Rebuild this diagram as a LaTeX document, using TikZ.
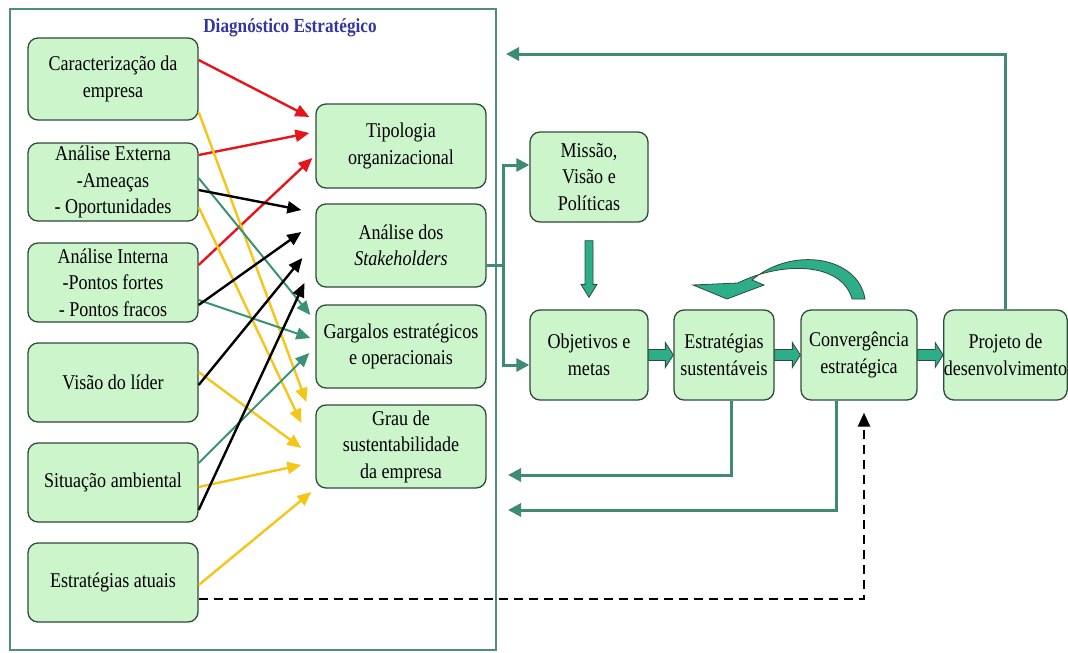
\documentclass[tikz,border=0pt]{standalone}
\usepackage{fontspec}
\setmainfont{Liberation Serif}
\newfontfamily\dgfont{Liberation Serif}[FakeStretch=0.86]
\usetikzlibrary{arrows.meta,calc}
\definecolor{boxfill}{HTML}{CCF5CC}
\definecolor{boxline}{HTML}{2F4A3A}
\definecolor{frameC}{HTML}{4E8E7E}
\definecolor{gline}{HTML}{3E8A72}
\definecolor{blockC}{HTML}{2EAE88}
\definecolor{redA}{HTML}{E8141C}
\definecolor{yelA}{HTML}{F5C518}
\definecolor{tealA}{HTML}{3A9274}
\definecolor{titleC}{HTML}{3535A0}
\newcommand{\blockH}[2]{%
  \draw[blockarr] ($(#1.east)+(0,-5.5)$) -- ($(#2.west)+(-8,-5.5)$) -- ($(#2.west)+(-8,-12.5)$) -- (#2.west)
    -- ($(#2.west)+(-8,12.5)$) -- ($(#2.west)+(-8,5.5)$) -- ($(#1.east)+(0,5.5)$) -- cycle;}
\begin{document}
\begin{tikzpicture}[x=1pt,y=-1pt,
  box/.style={draw=boxline, line width=1.3pt, fill=boxfill, rounded corners=10pt, align=center,
    inner sep=0pt, font=\dgfont\fontsize{21}{26.5}\selectfont},
  lbox/.style={box, minimum width=170pt, minimum height=79pt},
  mbox/.style={box, minimum width=170pt, minimum height=83pt},
  rbox/.style={box, minimum height=90pt},
  thin arrow/.style={line width=2.4pt, -{Triangle[length=14pt,width=12pt]}},
  redarr/.style={thin arrow, redA},
  blkarr/.style={thin arrow, black},
  yelarr/.style={thin arrow, yelA},
  tealarr/.style={thin arrow, tealA, line width=2pt},
  gconn/.style={gline, line width=3pt},
  garr/.style={gconn, -{Triangle[length=13pt,width=13pt]}},
  blockarr/.style={draw=boxline, line width=0.8pt, fill=blockC},
  framebox/.style={draw=frameC, line width=2.5pt, minimum width=486pt, minimum height=641pt, inner sep=0pt},
  titlestyle/.style={font=\dgfont\fontsize{20}{24}\selectfont\bfseries, text=titleC}
]
\useasboundingbox (0,0) rectangle (1068,653);
\node[framebox] (frame) at (253,329.5) {};
\node[titlestyle] (title) at (290,28) {Diagnóstico Estratégico};
% left boxes
\node[lbox, minimum height=82pt] (car) at (113,79) {Caracterização da\\empresa};
\node[lbox, minimum height=78pt] (ext) at (113,182) {Análise Externa\\-Ameaças\\- Oportunidades};
\node[lbox] (int) at (113,282.5) {Análise Interna\\-Pontos fortes\\- Pontos fracos};
\node[lbox] (vis) at (113,382.5) {Visão do líder};
\node[lbox] (sit) at (113,482.5) {Situação ambiental};
\node[lbox] (est) at (113,582.5) {Estratégias atuais};
% middle boxes
\node[mbox, minimum height=84pt] (tip) at (401,146) {Tipologia\\organizacional};
\node[mbox] (stk) at (401,245.5) {Análise dos\\\textit{Stakeholders}};
\node[mbox] (gar) at (401,346.5) {Gargalos estratégicos\\e operacionais};
\node[mbox] (gra) at (401,446.5) {Grau de\\sustentabilidade\\da empresa};
% right boxes
\node[rbox, minimum width=118pt] (mis) at (589,177) {Missão,\\Visão e\\Políticas};
\node[rbox, minimum width=118pt] (obj) at (589,355) {Objetivos e\\metas};
\node[rbox, minimum width=100pt] (ets) at (724,355) {Estratégias\\sustentáveis};
\node[rbox, minimum width=116pt] (con) at (859,355) {Convergência\\estratégica};
\node[rbox, minimum width=121pt] (pro) at (1005.5,355) {Projeto de\\desenvolvimento};
% red arrows
\draw[redarr] ([yshift=19pt]car.east) -- ([xshift=-6pt,yshift=29pt]tip.west);
\draw[redarr] ([yshift=27pt]ext.east) -- ([xshift=-6pt,yshift=13pt]tip.west);
\draw[redarr] ([yshift=17.5pt]int.east) -- ([xshift=-3pt,yshift=-12pt]tip.west);
% yellow arrows
\draw[yelarr] ([yshift=-33pt]car.east) -- ([xshift=-9pt,yshift=44.5pt]gra.west);
\draw[yelarr] ([yshift=-25pt]ext.east) -- ([xshift=-14pt,yshift=23.5pt]gra.west);
\draw[yelarr] ([yshift=10.5pt]vis.east) -- ([xshift=-14pt,yshift=-1.5pt]gra.west);
\draw[yelarr] ([yshift=-4.5pt]sit.east) -- ([xshift=-14pt,yshift=-18.5pt]gra.west);
\draw[yelarr] ([yshift=-2.5pt]est.east) -- ([xshift=-4pt,yshift=-45.5pt]gra.west);
% teal arrows
\draw[tealarr] ([yshift=4pt]ext.east) -- ([xshift=-5pt,yshift=31.5pt]gar.west);
\draw[tealarr] ([yshift=-17.5pt]int.east) -- ([xshift=-5pt,yshift=8.5pt]gar.west);
\draw[tealarr] ([yshift=19.5pt]sit.east) -- ([xshift=-6pt,yshift=-6.5pt]gar.west);
% black arrows
\draw[blkarr] ([yshift=-8pt]ext.east) -- ([xshift=-14pt,yshift=35.5pt]stk.west);
\draw[blkarr] ([yshift=-22.5pt]int.east) -- ([xshift=-14pt,yshift=13.5pt]stk.west);
\draw[blkarr] ([yshift=-2.5pt]vis.east) -- ([xshift=-13pt,yshift=-12.5pt]stk.west);
\draw[blkarr] ([yshift=-27.5pt]sit.east) -- ([xshift=-11pt,yshift=-37.5pt]stk.west);
% green connectors
\coordinate (br) at (503,265);
\draw[gconn] ([yshift=-19.5pt]stk.east) -- (br);
\draw[garr] (br) |- ([yshift=12pt]mis.west);
\draw[garr] (br) |- ([yshift=-10pt]obj.west);
\coordinate (topend) at (506,54);
\draw[garr] (pro.north) |- (topend);
\coordinate (bend1) at (508,475);
\coordinate (bend2) at (508,510);
\draw[garr] ([xshift=7pt]ets.south) |- (bend1);
\draw[garr] ([xshift=-23pt]con.south) |- (bend2);
% dashed
\coordinate (dc) at (864,599);
\draw[black, line width=2.5pt, dash pattern=on 9pt off 6pt, -{Triangle[length=14pt,width=12pt]}]
  ([yshift=-16.5pt]est.east) -- (dc) -- ([xshift=5pt,yshift=-12pt]con.south);
% block arrows
\draw[blockarr] ($(mis.south)+(-4,18)$) -- ($(obj.north)+(-4,-25)$) -- ($(obj.north)+(-8,-25)$) -- ($(obj.north)+(0,-12)$)
  -- ($(obj.north)+(8,-25)$) -- ($(obj.north)+(4,-25)$) -- ($(mis.south)+(4,18)$) -- cycle;
\blockH{obj}{ets}
\blockH{ets}{con}
\blockH{con}{pro}
% curved arrow
\draw[blockarr] (865,299) .. controls (858,256) and (792,246) .. (752,280)
  -- (764,285) -- (727,299) -- (693,285) -- (738,283)
  .. controls (782,261) and (842,262) .. (852,299) -- cycle;
\end{tikzpicture}
\end{document}
